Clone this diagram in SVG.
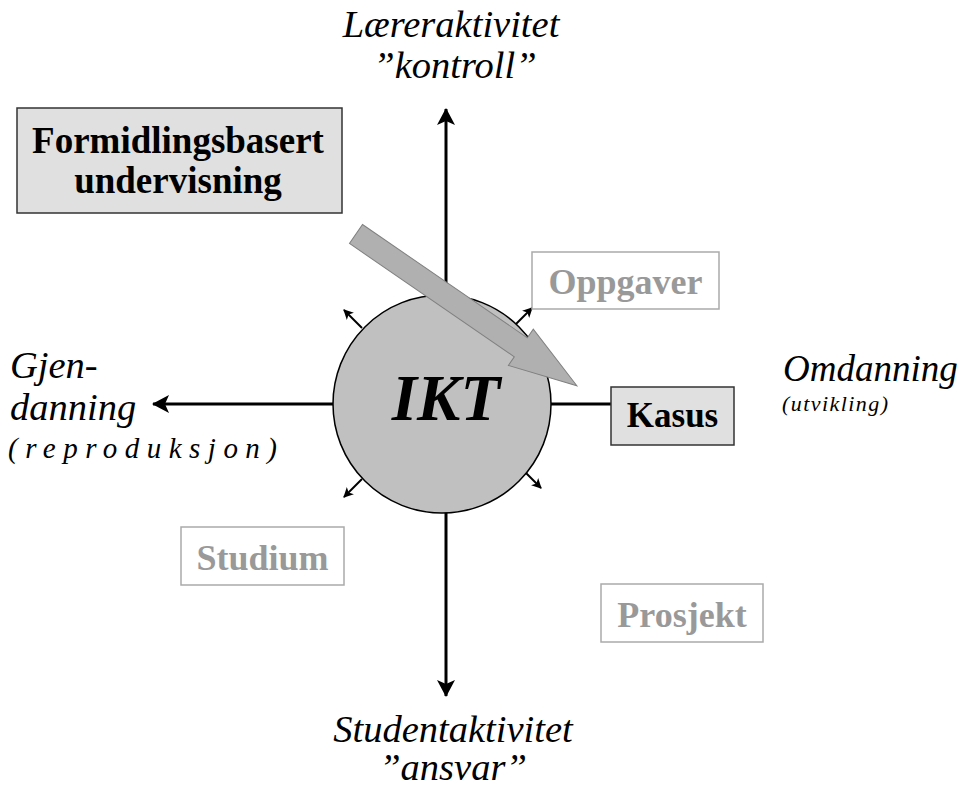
<svg xmlns="http://www.w3.org/2000/svg" width="962" height="796" viewBox="0 0 962 796" font-family="'Liberation Serif', 'DejaVu Serif', serif">
<style>
text{font-family:'Liberation Serif','DejaVu Serif',serif}
.it{font-style:italic;fill:#000}
.big{font-size:38.5px}
.sm{font-size:22px}
.axis{stroke:#000;stroke-width:3;fill:none}
.small{stroke:#000;stroke-width:2;fill:none}
.gbox{fill:#fff;stroke:#aaa;stroke-width:1.5}
.gtxt{font-weight:bold;font-size:36px;fill:#999;text-anchor:middle}
.dbox{fill:#e0e0e0;stroke:#333;stroke-width:1.5}
</style>
<defs>
<marker id="ah" viewBox="0 0 18 18" refX="16" refY="9" markerWidth="18" markerHeight="18" markerUnits="userSpaceOnUse" orient="auto">
<path d="M0,0 L17,9 L0,18 L4,9 Z" fill="#000"/>
</marker>
<marker id="sh" viewBox="0 0 10 10" refX="9" refY="5" markerWidth="10" markerHeight="10" markerUnits="userSpaceOnUse" orient="auto">
<path d="M0,0 L10,5 L0,10 L2.5,5 Z" fill="#000"/>
</marker>
</defs>
<g id="connectors">
<line class="axis" x1="446" y1="300" x2="446" y2="109" marker-end="url(#ah)"/>
<line class="axis" x1="446" y1="510" x2="446" y2="696" marker-end="url(#ah)"/>
<line class="axis" x1="334" y1="404" x2="153" y2="404" marker-end="url(#ah)"/>
<line class="axis" x1="551" y1="404" x2="611" y2="404"/>
<line class="small" x1="362" y1="328" x2="344" y2="310" marker-end="url(#sh)"/>
<line class="small" x1="513" y1="327" x2="532" y2="308" marker-end="url(#sh)"/>
<line class="small" x1="362" y1="479" x2="344" y2="497" marker-end="url(#sh)"/>
<line class="small" x1="523" y1="470" x2="541" y2="488" marker-end="url(#sh)"/>
</g>
<g id="ikt">
<circle cx="442" cy="404" r="109" fill="#c0c0c0" stroke="#000" stroke-width="1.5"/>
<text x="446" y="420" text-anchor="middle" font-size="65" font-weight="bold" font-style="italic">IKT</text>
</g>
<g id="big-arrow">
<polygon transform="translate(356,234) rotate(34.5)" points="0,-11.5 200,-11.5 200,-22 268,0 200,22 200,11.5 0,11.5" fill="#b0b0b0" stroke="#808080" stroke-width="1"/>
</g>
<g id="formidling">
<rect class="dbox" x="17" y="108" width="325" height="105"/>
<text x="178" y="153" text-anchor="middle" font-size="37" font-weight="bold">Formidlingsbasert</text>
<text x="178" y="193" text-anchor="middle" font-size="37" font-weight="bold">undervisning</text>
</g>
<g id="oppgaver">
<rect class="gbox" x="532" y="252" width="187" height="57"/>
<text class="gtxt" x="625.5" y="294">Oppgaver</text>
</g>
<g id="kasus">
<rect class="dbox" x="611" y="387" width="123" height="58"/>
<text x="672.5" y="427" text-anchor="middle" font-size="35" font-weight="bold">Kasus</text>
</g>
<g id="studium">
<rect class="gbox" x="181" y="527" width="163" height="58"/>
<text class="gtxt" x="262.5" y="570">Studium</text>
</g>
<g id="prosjekt">
<rect class="gbox" x="601" y="584" width="162" height="58"/>
<text class="gtxt" x="682" y="627">Prosjekt</text>
</g>
<g id="top-label">
<text class="it big" x="451" y="37" text-anchor="middle">Læreraktivitet</text>
<text class="it big" x="455" y="78" text-anchor="middle">”kontroll”</text>
</g>
<g id="bottom-label">
<text class="it big" x="453" y="742" text-anchor="middle">Studentaktivitet</text>
<text class="it big" x="453" y="780" text-anchor="middle">”ansvar”</text>
</g>
<g id="left-label">
<text class="it big" x="10" y="378" font-size="39.5">Gjen-</text>
<text class="it big" x="10" y="420" font-size="39.5">danning</text>
<text class="it" x="8" y="458" font-size="29" textLength="269" lengthAdjust="spacing">(reproduksjon)</text>
</g>
<g id="right-label">
<text class="it" x="783" y="381" font-size="37">Omdanning</text>
<text class="it sm" x="782" y="411" textLength="106" lengthAdjust="spacing">(utvikling)</text>
</g>
</svg>
